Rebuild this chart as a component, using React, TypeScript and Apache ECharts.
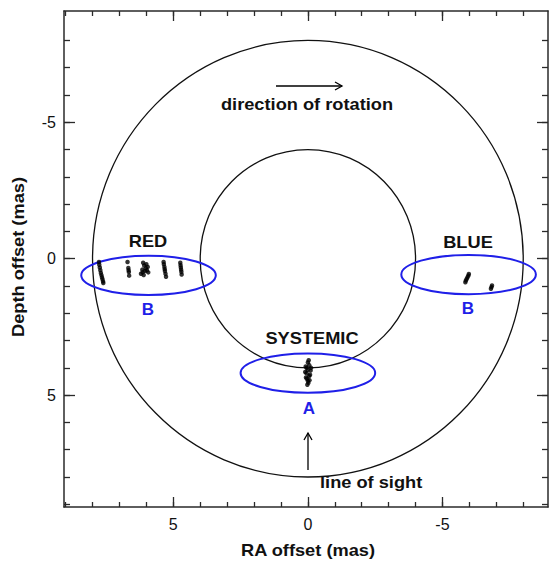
import React, { useEffect, useRef } from "react";
import * as echarts from "echarts";

// Axis ranges (mas)
const xMin = -8.92;
const xMax = 9.06;
const yMin = -9.08;
const yMax = 9.1;

// tick values
const majorTicks = [-5, 0, 5];
const minorTicks = [-8, -7, -6, -5, -4, -3, -2, -1, 0, 1, 2, 3, 4, 5, 6, 7, 8, 9];

// disk rings: radius in mas, centered at origin
const ringRadii = [8, 4];

// region ellipses (x, y, half-width, half-height)
const regionLabels = ["B", "B", "A"];
const regionX = [5.92, -5.97, 0];
const regionY = [0.61, 0.58, 4.19];
const regionRx = [2.5, 2.5, 2.5];
const regionRy = [0.72, 0.72, 0.72];

// maser spots: RA offset, depth offset
const spotRA = [
  // red group 1
  7.76, 7.75, 7.73, 7.71, 7.69, 7.67, 7.65, 7.63, 7.61, 7.6,
  // red group 2
  6.7, 6.67, 6.66, 6.65, 6.64,
  // red group 3
  6.12, 6.0, 5.95, 6.15, 6.05, 5.93, 6.1, 6.2, 6.02, 6.08, 5.98, 6.14,
  // red group 4
  5.36, 5.35, 5.33, 5.32, 5.31, 5.29, 5.27,
  // red group 5
  4.74, 4.73, 4.72, 4.71, 4.7, 4.69,
  // blue
  -5.98, -5.96, -5.93, -5.9, -5.87, -5.85, -6.84, -6.82, -6.8,
  // systemic
  0.0, -0.05, 0.05, -0.1, 0.05, -0.05, 0.04, -0.02, 0.1, -0.12, 0.0,
  0.08, -0.08, 0.02, -0.03, 0.07, -0.06, 0.01,
];
const spotDepth = [
  0.12, 0.22, 0.32, 0.42, 0.52, 0.6, 0.68, 0.75, 0.83, 0.89,
  0.12, 0.34, 0.42, 0.49, 0.62,
  0.15, 0.2, 0.3, 0.4, 0.45, 0.5, 0.6, 0.55, 0.35, 0.25, 0.42, 0.5,
  0.12, 0.2, 0.3, 0.38, 0.45, 0.55, 0.66,
  0.15, 0.24, 0.32, 0.4, 0.48, 0.58,
  0.56, 0.62, 0.68, 0.74, 0.8, 0.86, 0.98, 1.04, 1.1,
  3.8, 3.9, 4.0, 4.1, 4.2, 4.3, 4.4, 4.55, 4.15, 4.0, 4.48,
  3.95, 4.25, 4.62, 3.72, 4.35, 4.45, 4.08,
];

const FONT = '"Liberation Sans", Arial, Helvetica, sans-serif';
const BLUE = "#1f1fe8";
const AXIS_COLOR = "#2a2a2a";
const SX = 1.14;

export default function App() {
  const ref = useRef<HTMLDivElement>(null);

  useEffect(() => {
    if (!ref.current) return;
    const chart = echarts.init(ref.current, undefined, { renderer: "svg" });

    const baseX = (position: string, ticks: number[], len: number, showLine: boolean, showLabel: boolean) => ({
      type: "value",
      position,
      min: xMin,
      max: xMax,
      inverse: true,
      splitLine: { show: false },
      axisLine: { show: showLine, onZero: false, lineStyle: { color: AXIS_COLOR, width: 1.5 } },
      axisTick: { show: true, inside: true, length: len, customValues: ticks, lineStyle: { color: AXIS_COLOR, width: 1.3 } },
      axisLabel: showLabel
        ? { show: true, customValues: majorTicks, fontSize: 16, fontFamily: FONT, color: "#111", margin: 9, formatter: (v: number) => String(v) }
        : { show: false },
    });
    const baseY = (position: string, ticks: number[], len: number, showLine: boolean, showLabel: boolean) => ({
      type: "value",
      position,
      min: yMin,
      max: yMax,
      inverse: true,
      splitLine: { show: false },
      axisLine: { show: showLine, onZero: false, lineStyle: { color: AXIS_COLOR, width: 1.5 } },
      axisTick: { show: true, inside: true, length: len, customValues: ticks, lineStyle: { color: AXIS_COLOR, width: 1.3 } },
      axisLabel: showLabel
        ? { show: true, customValues: majorTicks, fontSize: 16, fontFamily: FONT, color: "#111", margin: 8, formatter: (v: number) => String(v) }
        : { show: false },
    });

    const ringData = ringRadii.map((r) => [0, 0, r, r]);
    const regionData = regionX.map((x, i) => [x, regionY[i], regionRx[i], regionRy[i]]);
    const spotData = spotRA.map((x, i) => [x, spotDepth[i]]);

    const ellipseRenderer = (stroke: string, lw: number) => (params: any, api: any) => {
      const c = api.coord([api.value(0), api.value(1)]);
      const s = api.size([api.value(2), api.value(3)]);
      return {
        type: "ellipse",
        shape: { cx: c[0], cy: c[1], rx: Math.abs(s[0]), ry: Math.abs(s[1]) },
        style: { fill: "none", stroke, lineWidth: lw },
        silent: true,
      };
    };

    const txt = (text: string, x: number, y: number, size: number, fill: string, align = "center", extra: any = {}) => ({
      type: "text",
      x,
      y,
      scaleX: SX,
      ...extra,
      style: { text, font: `bold ${size}px ${FONT}`, fill, align, verticalAlign: "middle" },
    });

    chart.setOption({
      animation: false,
      backgroundColor: "#ffffff",
      grid: { left: 64, right: 1, top: 11, bottom: 57, containLabel: false },
      xAxis: [
        baseX("bottom", majorTicks, 10, true, true),
        baseX("bottom", minorTicks, 5, false, false),
        baseX("top", majorTicks, 10, true, false),
        baseX("top", minorTicks, 5, false, false),
      ],
      yAxis: [
        baseY("left", majorTicks, 11, true, true),
        baseY("left", minorTicks, 6, false, false),
        baseY("right", majorTicks, 11, true, false),
        baseY("right", minorTicks, 6, false, false),
      ],
      series: [
        {
          type: "custom",
          name: "rings",
          data: ringData,
          encode: { x: 0, y: 1 },
          clip: false,
          renderItem: ellipseRenderer("#111", 1.3),
          z: 2,
        },
        {
          type: "custom",
          name: "regions",
          data: regionData,
          encode: { x: 0, y: 1 },
          clip: false,
          renderItem: ellipseRenderer(BLUE, 2),
          z: 3,
        },
        {
          type: "scatter",
          name: "spots",
          data: spotData,
          symbol: "circle",
          symbolSize: 4.5,
          itemStyle: { color: "#000" },
          z: 4,
        },
      ],
      graphic: [
        { type: "line", shape: { x1: 276, y1: 86, x2: 342, y2: 86 }, style: { stroke: "#000", lineWidth: 1.3 } },
        { type: "polyline", shape: { points: [[335, 82], [342, 86], [335, 90]] }, style: { stroke: "#000", lineWidth: 1.3, fill: "none" } },
        { type: "line", shape: { x1: 308, y1: 433, x2: 308, y2: 470 }, style: { stroke: "#000", lineWidth: 1.3 } },
        { type: "polyline", shape: { points: [[304, 440], [308, 433], [312, 440]] }, style: { stroke: "#000", lineWidth: 1.3, fill: "none" } },
        txt("direction of rotation", 307, 104, 16, "#111"),
        txt("line of sight", 320, 482, 16, "#111", "left"),
        txt("RED", 148, 241, 16, "#111"),
        txt("BLUE", 468, 242, 16, "#111"),
        txt("SYSTEMIC", 312, 338, 16, "#111"),
        txt(regionLabels[0], 148, 309, 17, BLUE, "center", { scaleX: 1 }),
        txt(regionLabels[1], 468, 308, 17, BLUE, "center", { scaleX: 1 }),
        txt(regionLabels[2], 309, 408, 17, BLUE, "center", { scaleX: 1 }),
        txt("RA offset (mas)", 308, 550, 16, "#111"),
        txt("Depth offset (mas)", 18, 257, 16, "#111", "center", { rotation: Math.PI / 2 }),
      ],
    });

    return () => chart.dispose();
  }, []);

  return (
    <div
      ref={ref}
      style={{ position: "fixed", left: 0, top: 0, width: 549, height: 564, background: "#fff" }}
    />
  );
}
